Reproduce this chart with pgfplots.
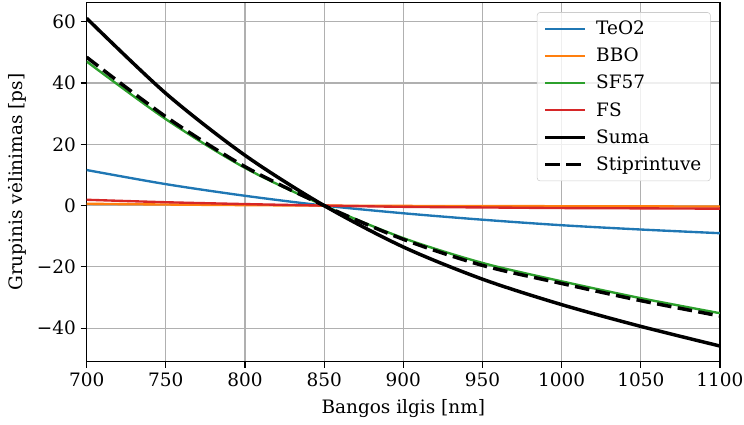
\documentclass[border=0pt]{standalone}
\usepackage{fontspec}
\setmainfont{DejaVu Serif}
\newfontfamily\dvs{DejaVu Serif}
\usepackage{pgfplots}
\pgfplotsset{compat=1.18}
\definecolor{tabblue}{HTML}{1F77B4}
\definecolor{taborange}{HTML}{FF7F0E}
\definecolor{tabgreen}{HTML}{2CA02C}
\definecolor{tabred}{HTML}{D62728}
\definecolor{gridgray}{HTML}{B0B0B0}
\begin{document}
\begin{tikzpicture}
\begin{axis}[
  scale only axis,
  width=456pt, height=258.5pt,
  xmin=700, xmax=1100, ymin=-50.9, ymax=66.2,
  xtick={700,750,...,1100},
  ytick={-40,-20,0,20,40,60},
  yticklabels={−40,−20,0,20,40,60},
  xticklabels={700,750,800,850,900,950,1000,1050,1100},
  grid=major,
  major grid style={gridgray, line width=0.8pt},
  axis line style={line width=0.8pt},
  tick align=outside,
  major tick length=4.3pt,
  tick style={black, line width=0.8pt},
  xtick pos=bottom, ytick pos=left,
  tick label style={font=\dvs\fontsize{13.3pt}{15.5pt}\selectfont},
  label style={font=\dvs\fontsize{13.3pt}{15.5pt}\selectfont},
  xlabel={Bangos ilgis [nm]},
  ylabel={Grupinis vėlinimas [ps]},
  xlabel style={yshift=-2.5pt},
  ylabel style={yshift=0.5pt},
  legend cell align=left,
  legend image code/.code={\draw[#1] (0pt,0pt) -- (29pt,0pt); \path (33.5pt,0pt);},
  legend style={at={(1,1)}, anchor=north east, xshift=-6.7pt, yshift=-6.9pt,
    draw=black!20, rounded corners=2pt, fill=white, fill opacity=0.8, text opacity=1,
    font=\dvs\fontsize{13.3pt}{15.5pt}\selectfont, row sep=4.2pt, inner xsep=4.5pt, inner ysep=4pt},
]
\addplot[tabblue, line width=1.7pt, smooth] coordinates {
(700,11.6) (750,7.0) (800,3.2) (850,0) (900,-2.5) (950,-4.6) (1000,-6.4) (1050,-7.8) (1100,-9.0)};
\addlegendentry{TeO2}
\addplot[taborange, line width=1.7pt, smooth] coordinates {
(700,0.6) (750,0.35) (800,0.15) (850,0) (900,-0.1) (950,-0.15) (1000,-0.2) (1050,-0.25) (1100,-0.3)};
\addlegendentry{BBO}
\addplot[tabgreen, line width=1.7pt, smooth] coordinates {
(700,47.0) (750,28.2) (800,12.3) (850,0) (900,-10.6) (950,-18.7) (1000,-24.7) (1050,-30.2) (1100,-35.1)};
\addlegendentry{SF57}
\addplot[tabred, line width=1.7pt, smooth] coordinates {
(700,1.9) (750,1.1) (800,0.5) (850,0) (900,-0.4) (950,-0.6) (1000,-0.8) (1050,-0.9) (1100,-1.0)};
\addlegendentry{FS}
\addplot[black, line width=2.5pt, smooth] coordinates {
(700,61.1) (750,36.6) (800,16.4) (850,0) (900,-13.5) (950,-24.0) (1000,-32.3) (1050,-39.4) (1100,-45.8)};
\addlegendentry{Suma}
\addplot[black, line width=2.5pt, smooth, dash pattern=on 10.5pt off 4.6pt] coordinates {
(700,48.4) (750,29.0) (800,12.7) (850,0) (900,-11.0) (950,-19.5) (1000,-25.4) (1050,-31.0) (1100,-36.0)};
\addlegendentry{Stiprintuve}
\end{axis}
\pgfresetboundingbox
\path[use as bounding box] ([shift={(-62.4pt,-44.9pt)}]current axis.south west) rectangle ([shift={(17.3pt,1.9pt)}]current axis.north east);
\end{tikzpicture}
\end{document}
